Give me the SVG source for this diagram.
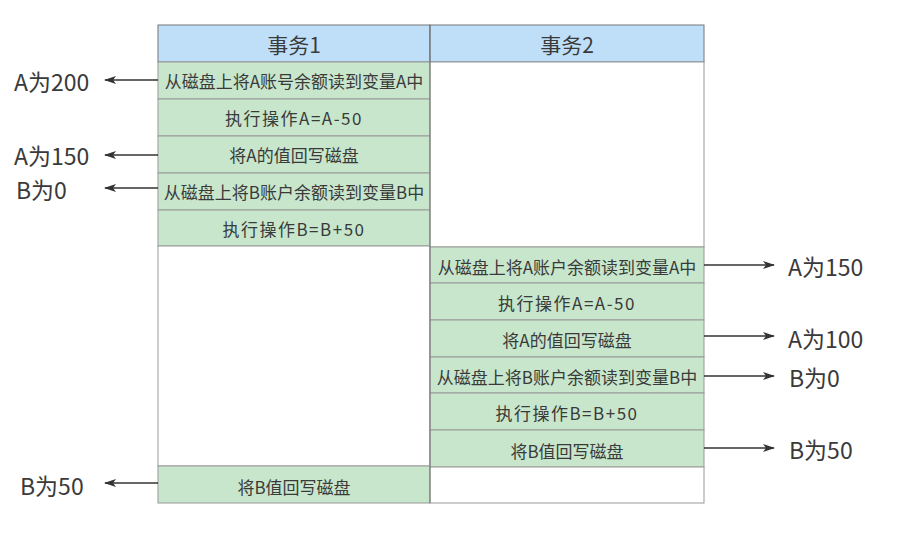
<svg xmlns="http://www.w3.org/2000/svg" width="903" height="540" viewBox="0 0 903 540">
<defs>
<marker id="ah" markerWidth="12" markerHeight="8" refX="11" refY="4" orient="auto" markerUnits="userSpaceOnUse">
<path d="M0,0 L12,4 L0,8 L3,4 Z" fill="#333"/>
</marker>
</defs>
<style>
.hd{fill:#bfdff9;stroke:#777;stroke-width:1}
.gr{fill:#c7e6cc;stroke:#999;stroke-width:1}
.wh{fill:#fff;stroke:#999;stroke-width:1}
.ht{font-family:"Noto Sans CJK SC","Noto Sans",sans-serif;font-size:21px;fill:#3a3a3a;text-anchor:middle;dominant-baseline:central}
.ct{font-family:"Noto Sans CJK SC","Noto Sans",sans-serif;font-size:17px;fill:#3a3a3a;text-anchor:middle;dominant-baseline:central}
.cs{letter-spacing:1.5px}
.lb{font-family:"Noto Sans CJK SC","Noto Sans",sans-serif;font-size:23px;fill:#3a3a3a;dominant-baseline:central}
.ar{stroke:#333;stroke-width:1.5;fill:none;marker-end:url(#ah)}
</style>
<rect width="903" height="540" fill="#fff"/>
<g id="header1"><rect class="hd" x="158" y="25" width="272" height="37"/><text class="ht" x="294" y="43.5">事务1</text></g>
<g id="header2"><rect class="hd" x="430" y="25" width="274" height="37"/><text class="ht" x="567" y="43.5">事务2</text></g>
<g id="t1s1"><rect class="gr" x="158" y="62" width="272" height="37"/><text class="ct" x="294" y="80.5">从磁盘上将A账号余额读到变量A中</text></g>
<g id="t1s2"><rect class="gr" x="158" y="99" width="272" height="37"/><text class="ct cs" x="294" y="117.5">执行操作A=A-50</text></g>
<g id="t1s3"><rect class="gr" x="158" y="136" width="272" height="37"/><text class="ct" x="294" y="154.5">将A的值回写磁盘</text></g>
<g id="t1s4"><rect class="gr" x="158" y="173" width="272" height="37"/><text class="ct" x="294" y="191.5">从磁盘上将B账户余额读到变量B中</text></g>
<g id="t1s5"><rect class="gr" x="158" y="210" width="272" height="36"/><text class="ct cs" x="294" y="228">执行操作B=B+50</text></g>
<g id="t1blank"><rect class="wh" x="158" y="246" width="272" height="220"/></g>
<g id="t1s6"><rect class="gr" x="158" y="466" width="272" height="37"/><text class="ct" x="294" y="486">将B值回写磁盘</text></g>
<g id="t2blank1"><rect class="wh" x="430" y="62" width="274" height="185"/></g>
<g id="t2s1"><rect class="gr" x="430" y="247" width="274" height="36"/><text class="ct" x="567" y="266">从磁盘上将A账户余额读到变量A中</text></g>
<g id="t2s2"><rect class="gr" x="430" y="283" width="274" height="37"/><text class="ct cs" x="567" y="302">执行操作A=A-50</text></g>
<g id="t2s3"><rect class="gr" x="430" y="320" width="274" height="37"/><text class="ct" x="567" y="339">将A的值回写磁盘</text></g>
<g id="t2s4"><rect class="gr" x="430" y="357" width="274" height="36"/><text class="ct" x="567" y="376">从磁盘上将B账户余额读到变量B中</text></g>
<g id="t2s5"><rect class="gr" x="430" y="393" width="274" height="37"/><text class="ct cs" x="567" y="412">执行操作B=B+50</text></g>
<g id="t2s6"><rect class="gr" x="430" y="430" width="274" height="37"/><text class="ct" x="567" y="450">将B值回写磁盘</text></g>
<g id="t2blank2"><rect class="wh" x="430" y="467" width="274" height="36"/></g>
<g id="dividers"><line x1="430" y1="25" x2="430" y2="503" stroke="#777" stroke-width="1"/></g>
<g id="labels">
<text class="lb" x="14" y="81">A为200</text>
<text class="lb" x="14" y="155">A为150</text>
<text class="lb" x="16" y="189">B为0</text>
<text class="lb" x="20" y="485">B为50</text>
<text class="lb" x="788" y="266">A为150</text>
<text class="lb" x="788" y="338">A为100</text>
<text class="lb" x="789" y="377">B为0</text>
<text class="lb" x="789" y="449">B为50</text>
</g>
<g id="connectors">
<line class="ar" x1="158" y1="80" x2="105" y2="80"/>
<line class="ar" x1="158" y1="155" x2="105" y2="155"/>
<line class="ar" x1="158" y1="188" x2="105" y2="188"/>
<line class="ar" x1="158" y1="483" x2="105" y2="483"/>
<line class="ar" x1="704" y1="265" x2="774" y2="265"/>
<line class="ar" x1="704" y1="336" x2="774" y2="336"/>
<line class="ar" x1="704" y1="376" x2="774" y2="376"/>
<line class="ar" x1="704" y1="448" x2="774" y2="448"/>
</g>
</svg>
